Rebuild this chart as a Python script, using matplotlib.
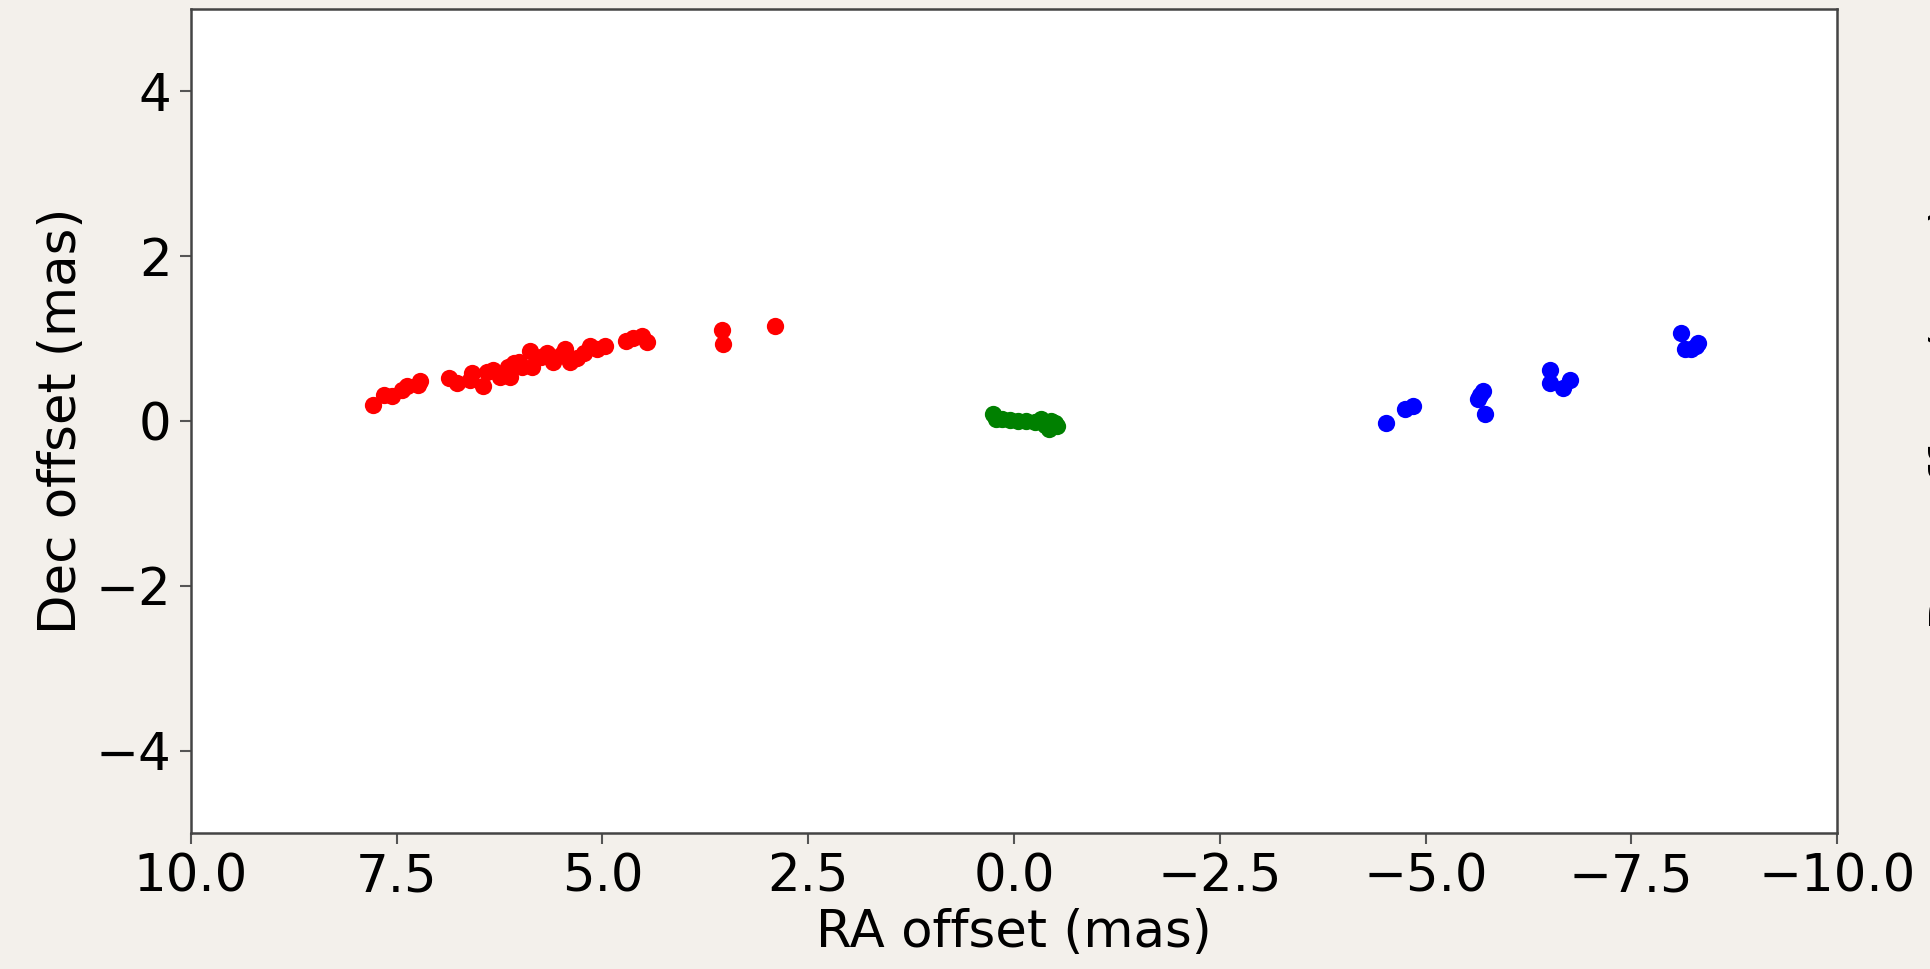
import matplotlib
matplotlib.use("Agg")
import matplotlib.pyplot as plt

# red group
red_ra = [7.79, 7.66, 7.56, 7.44, 7.38, 7.24, 7.22, 6.87, 6.77, 6.59, 6.61, 6.45,
          6.33, 6.25, 6.15, 6.08, 6.12, 5.98, 5.88, 5.86, 5.68, 5.60, 5.46, 5.40,
          5.31, 5.23, 5.15, 5.07, 4.97, 4.71, 4.63, 4.52, 4.46, 3.55, 3.53, 2.91,
          6.02, 5.75, 5.50, 6.40]
red_dec = [0.19, 0.32, 0.30, 0.38, 0.43, 0.44, 0.48, 0.52, 0.46, 0.58, 0.50, 0.43,
           0.62, 0.54, 0.66, 0.70, 0.54, 0.66, 0.85, 0.66, 0.83, 0.72, 0.87, 0.72,
           0.77, 0.83, 0.91, 0.87, 0.91, 0.97, 1.01, 1.03, 0.96, 1.11, 0.93, 1.15,
           0.72, 0.78, 0.80, 0.60]

# green group
green_ra = [0.25, 0.22, 0.15, 0.05, -0.05, -0.15, -0.25, -0.33, -0.38, -0.42,
            -0.50, -0.52, -0.45]
green_dec = [0.08, 0.03, 0.02, 0.01, 0.00, 0.00, -0.01, 0.02, -0.05, -0.10,
             -0.03, -0.06, 0.00]

# blue group
blue_ra = [-4.52, -4.75, -4.85, -5.70, -5.64, -5.72, -5.66, -6.51, -6.51, -6.67,
           -6.75, -8.11, -8.15, -8.29, -8.31, -8.23]
blue_dec = [-0.02, 0.15, 0.18, 0.36, 0.27, 0.09, 0.32, 0.62, 0.46, 0.40,
            0.50, 1.07, 0.87, 0.91, 0.95, 0.87]

W, H = 1931, 969
fig = plt.figure(figsize=(W / 100, H / 100), dpi=100, facecolor='#f3f0eb')
ax = fig.add_axes([191 / W, (H - 833) / H, 1646 / W, 824 / H])
ax.set_facecolor('white')

ms = 155
ax.scatter(red_ra, red_dec, s=ms, color='red', linewidths=0)
ax.scatter(green_ra, green_dec, s=ms, color='green', linewidths=0)
ax.scatter(blue_ra, blue_dec, s=ms, color='blue', linewidths=0)

ax.set_xlim(10, -10)
ax.set_ylim(-5, 5)
ax.set_xticks([10, 7.5, 5, 2.5, 0, -2.5, -5, -7.5, -10])
ax.set_yticks([-4, -2, 0, 2, 4])

fs = 37
ax.tick_params(labelsize=fs, length=8, width=1.5, color='#555555', pad=6)
for sp in ax.spines.values():
    sp.set_color('#444444')
    sp.set_linewidth(1.8)
ax.set_xlabel("RA offset (mas)", fontsize=fs, labelpad=4)
ax.set_ylabel("Dec offset (mas)", fontsize=fs, labelpad=6)

# label of a neighbouring panel, cut off at the right edge
fig.text(1929 / W, 0.57, "Dec offset (mas)", rotation=90, fontsize=fs,
         ha='left', va='center')

fig.savefig("out.png", dpi=100, facecolor=fig.get_facecolor())
